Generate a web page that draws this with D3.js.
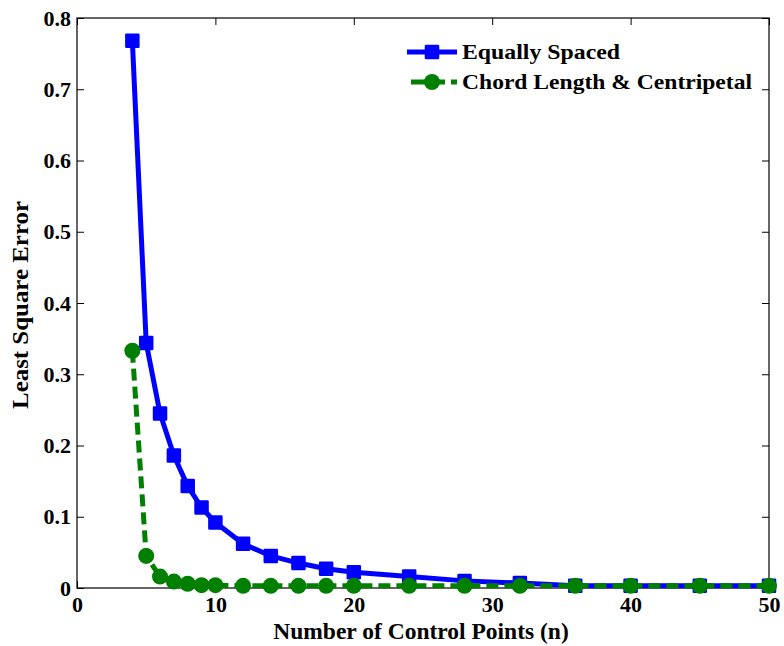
<!DOCTYPE html>
<html>
<head>
<meta charset="utf-8">
<script src="https://cdn.jsdelivr.net/npm/d3@7"></script>
<style>
  body { margin: 0; background: #fff; }
</style>
</head>
<body>
<svg id="chart" width="784" height="646"></svg>
<script>
// number of control points
const nPoints = [4, 5, 6, 7, 8, 9, 10, 12, 14, 16, 18, 20, 24, 28, 32, 36, 40, 45, 50];
// least square error, equally spaced
const equallySpaced = [0.768, 0.344, 0.245, 0.186, 0.143, 0.113, 0.092, 0.062, 0.045, 0.035, 0.027, 0.022, 0.016, 0.010, 0.007, 0.003, 0.003, 0.003, 0.003];
// least square error, chord length & centripetal
const chordCentripetal = [0.333, 0.045, 0.016, 0.009, 0.006, 0.004, 0.004, 0.003, 0.003, 0.003, 0.003, 0.003, 0.003, 0.003, 0.003, 0.003, 0.003, 0.003, 0.003];
const xTicks = [0, 10, 20, 30, 40, 50];
const yTicks = [0, 0.1, 0.2, 0.3, 0.4, 0.5, 0.6, 0.7, 0.8];

const FONT = "Liberation Serif";
const svg = d3.select("#chart");
const mLeft = 77, mRight = 769, mTop = 18, mBottom = 588;

const x = d3.scaleLinear().domain([0, 50]).range([mLeft, mRight]);
const y = d3.scaleLinear().domain([0, 0.8]).range([mBottom, mTop]);

const tickLen = 7;
const fmtY = d => d === 0 ? "0" : d3.format(".1f")(d);

// axes with inward ticks (matlab style box)
svg.append("g")
  .attr("transform", "translate(0," + mBottom + ")")
  .call(d3.axisBottom(x).tickValues(xTicks).tickSize(-tickLen).tickPadding(8).tickFormat(d3.format("d")))
  .call(g => g.select(".domain").remove())
  .call(g => g.attr("font-family", FONT).attr("font-weight", "bold").attr("font-size", 22))
  .selectAll("text").attr("fill", "#000");

svg.append("g")
  .attr("transform", "translate(" + mLeft + ",0)")
  .call(d3.axisLeft(y).tickValues(yTicks).tickSize(-tickLen).tickPadding(6).tickFormat(fmtY))
  .call(g => g.select(".domain").remove())
  .call(g => g.attr("font-family", FONT).attr("font-weight", "bold").attr("font-size", 22))
  .selectAll("text").attr("fill", "#000");

svg.append("g")
  .attr("transform", "translate(0," + mTop + ")")
  .call(d3.axisTop(x).tickValues(xTicks).tickSize(-tickLen).tickFormat(""))
  .call(g => g.select(".domain").remove());

svg.append("g")
  .attr("transform", "translate(" + mRight + ",0)")
  .call(d3.axisRight(y).tickValues(yTicks).tickSize(-tickLen).tickFormat(""))
  .call(g => g.select(".domain").remove());

svg.selectAll(".tick line").attr("stroke", "#000");

svg.append("rect")
  .attr("x", mLeft).attr("y", mTop)
  .attr("width", mRight - mLeft).attr("height", mBottom - mTop)
  .attr("fill", "none").attr("stroke", "#000").attr("stroke-width", 1.2);

// axis labels
svg.append("text")
  .attr("x", 421).attr("y", 639)
  .attr("text-anchor", "middle")
  .attr("font-family", FONT).attr("font-weight", "bold").attr("font-size", 23.5)
  .text("Number of Control Points (n)");

svg.append("text")
  .attr("transform", "translate(28,305) rotate(-90)")
  .attr("text-anchor", "middle")
  .attr("font-family", FONT).attr("font-weight", "bold").attr("font-size", 23)
  .attr("textLength", 208).attr("lengthAdjust", "spacingAndGlyphs")
  .text("Least Square Error");

const line = d3.line().x(d => x(d[0])).y(d => y(d[1]));

const blue = "#0000ff", green = "#007f00";
const blueData = nPoints.map((n, i) => [n, equallySpaced[i]]);
const greenData = nPoints.map((n, i) => [n, chordCentripetal[i]]);

const plot = svg.append("g");

plot.append("path").datum(blueData)
  .attr("d", line).attr("fill", "none")
  .attr("stroke", blue).attr("stroke-width", 5).attr("stroke-linejoin", "round");

plot.selectAll("rect.blue").data(blueData).join("rect")
  .attr("class", "blue")
  .attr("x", d => x(d[0]) - 6).attr("y", d => y(d[1]) - 6)
  .attr("width", 12).attr("height", 12)
  .attr("fill", blue).attr("stroke", blue).attr("stroke-width", 2.5).attr("stroke-linejoin", "round");

plot.append("path").datum(greenData)
  .attr("d", line).attr("fill", "none")
  .attr("stroke", green).attr("stroke-width", 5).attr("stroke-dasharray", "12,6");

plot.selectAll("circle.green").data(greenData).join("circle")
  .attr("class", "green")
  .attr("cx", d => x(d[0])).attr("cy", d => y(d[1]))
  .attr("r", 8).attr("fill", green);

// legend
const legend = svg.append("g")
  .attr("font-family", FONT).attr("font-weight", "bold").attr("font-size", 21);
const legendItems = [
  { label: "Equally Spaced", color: blue, dash: null, marker: "square", y: 52, len: 158 },
  { label: "Chord Length & Centripetal", color: green, dash: "14,6", marker: "circle", y: 82, len: 290 }
];
legendItems.forEach(item => {
  legend.append("line")
    .attr("x1", item.dash ? 411 : 407).attr("x2", 457).attr("y1", item.y).attr("y2", item.y)
    .attr("stroke", item.color).attr("stroke-width", 5)
    .attr("stroke-dasharray", item.dash);
  if (item.marker === "square") {
    legend.append("rect")
      .attr("x", 426).attr("y", item.y - 6).attr("width", 12).attr("height", 12)
      .attr("fill", item.color).attr("stroke", item.color).attr("stroke-width", 2.5).attr("stroke-linejoin", "round");
  } else {
    legend.append("circle").attr("cx", 432).attr("cy", item.y).attr("r", 8).attr("fill", item.color);
  }
  legend.append("text")
    .attr("x", 462).attr("y", item.y + 7)
    .attr("textLength", item.len).attr("lengthAdjust", "spacingAndGlyphs")
    .text(item.label);
});
</script>
</body>
</html>
